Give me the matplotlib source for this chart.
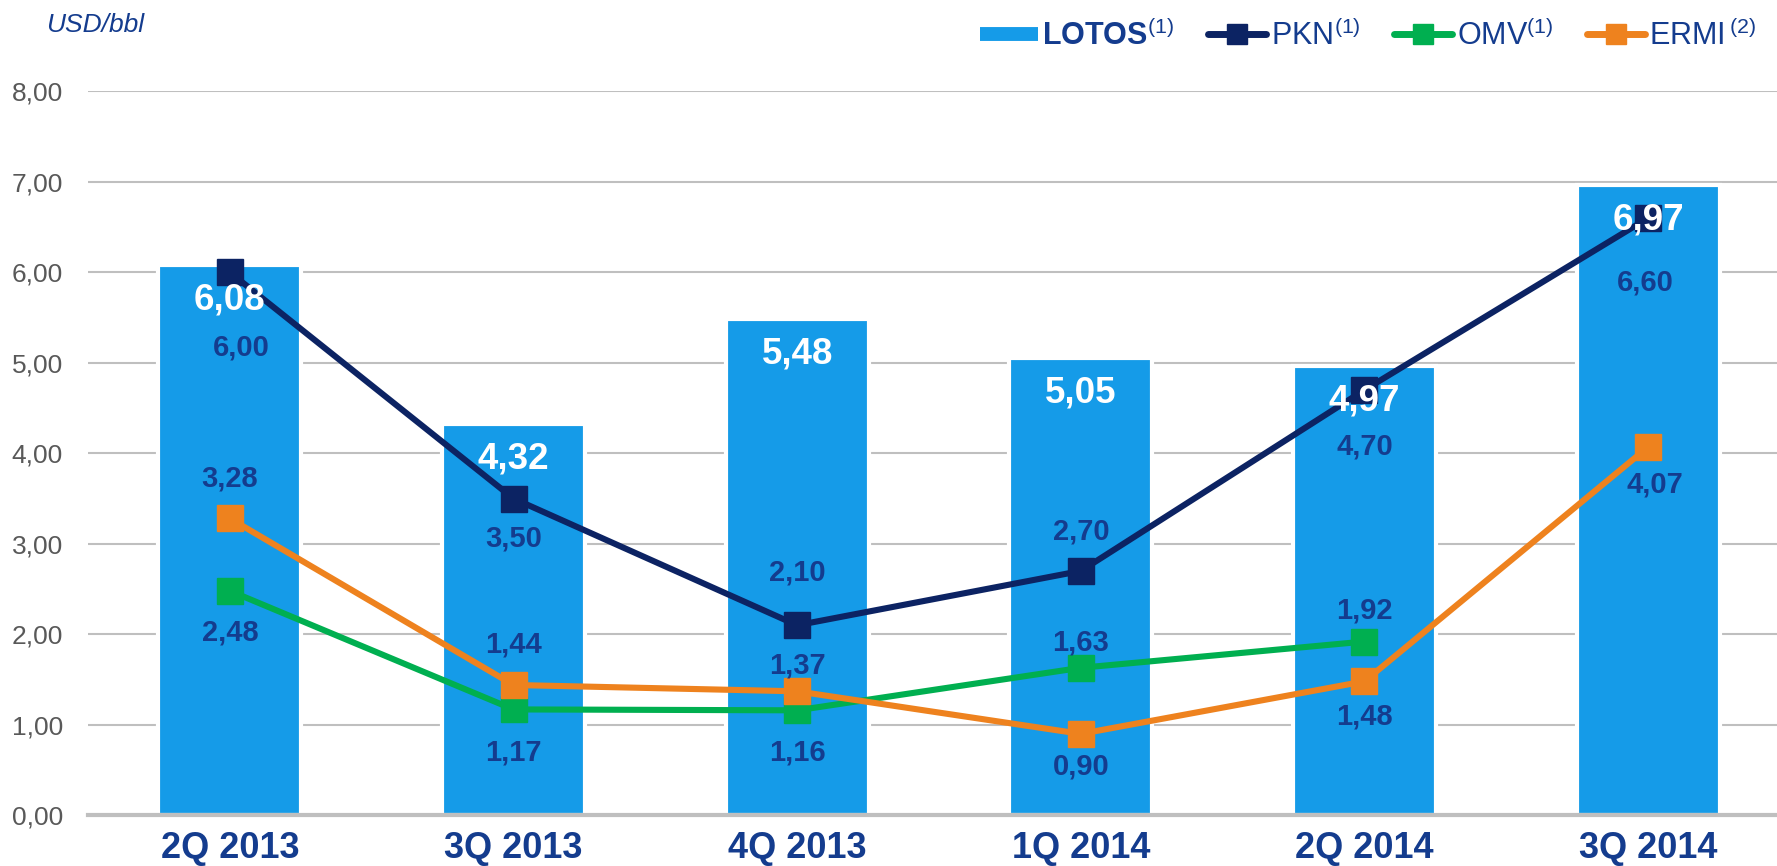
import numpy as np
import matplotlib
matplotlib.use('Agg')
import matplotlib.pyplot as plt
from matplotlib.lines import Line2D

# data (USD/bbl)
quarters = ['2Q 2013', '3Q 2013', '4Q 2013', '1Q 2014', '2Q 2014', '3Q 2014']
lotos = [6.08, 4.32, 5.48, 5.05, 4.97, 6.97]
pkn = [6.00, 3.50, 2.10, 2.70, 4.70, 6.60]
omv = [2.48, 1.17, 1.16, 1.63, 1.92, np.nan]
ermi = [3.28, 1.44, 1.37, 0.90, 1.48, 4.07]
yticks = [0, 1, 2, 3, 4, 5, 6, 7, 8]

# label offsets in pixels (dx, dy) from each point
lotos_offsets = [(0, -35)] * 6
pkn_offsets = [(11, -75), (0, -40), (0, 53), (0, 39), (0, -57), (-3, -64)]
omv_offsets = [(0, -42), (0, -43), (0, -42), (0, 25), (0, 31), (0, 0)]
ermi_offsets = [(0, 40), (0, 40), (0, 26), (0, -33), (0, -35), (7, -38)]

BAR = '#159BE8'
NAVY = '#0C2363'
GREEN = '#00AF50'
ORANGE = '#EE821E'
TXT = '#143C8E'
GRID = '#BFBFBF'

plt.rcParams['font.family'] = ['Liberation Sans', 'DejaVu Sans']
plt.rcParams['mathtext.fontset'] = 'custom'
plt.rcParams['mathtext.rm'] = 'Liberation Sans'
plt.rcParams['mathtext.it'] = 'Liberation Sans:italic'
plt.rcParams['mathtext.bf'] = 'Liberation Sans:bold'


def fmt(v):
    return f'{v:.2f}'.replace('.', ',')


fig = plt.figure(figsize=(17.77, 8.66), dpi=100)
ax = fig.add_axes([88 / 1777, 50.7 / 866, 1702 / 1777, 724 / 866])

x = np.arange(len(quarters))
ax.bar(x, lotos, width=0.505, color=BAR, edgecolor='white', linewidth=3, zorder=2)

series = [(pkn, NAVY, pkn_offsets), (omv, GREEN, omv_offsets), (ermi, ORANGE, ermi_offsets)]
for vals, col, offs in series:
    ax.plot(x, vals, color=col, lw=4.4, marker='s', markersize=18.5,
            solid_joinstyle='miter', zorder=3)
    for xi, v, (dx, dy) in zip(x, vals, offs):
        if np.isnan(v):
            continue
        ax.annotate(fmt(v), (xi, v), xytext=(dx, dy), textcoords='offset pixels',
                    ha='center', va='center', fontsize=21, fontweight='bold',
                    color=TXT, zorder=5)

for xi, v, (dx, dy) in zip(x, lotos, lotos_offsets):
    ax.annotate(fmt(v), (xi, v), xytext=(dx, dy), textcoords='offset pixels',
                ha='center', va='center', fontsize=26.5, fontweight='bold',
                color='white', zorder=6)

ax.set_xlim(-0.5, 5.5)
ax.set_ylim(0, 8)
ax.set_yticks(yticks, [fmt(t) for t in yticks])
ax.set_xticks(x, quarters)
ax.tick_params(axis='y', length=0, pad=18, labelsize=19, labelcolor='#595959')
ax.tick_params(axis='x', length=0, pad=11, labelsize=26, labelcolor=TXT)
for lbl in ax.get_xticklabels():
    lbl.set_fontweight('bold')

ax.yaxis.grid(True, color=GRID, lw=1.5)
ax.set_axisbelow(True)
for s in ['left', 'right', 'top']:
    ax.spines[s].set_visible(False)
ax.spines['bottom'].set_color(GRID)
ax.spines['bottom'].set_linewidth(3)

fig.text(46 / 1777, 1 - 25 / 866, 'USD/bbl', fontsize=19, style='italic',
         color=TXT, ha='left', va='center')

handles = [
    Line2D([], [], color=BAR, lw=10, solid_capstyle='butt'),
    Line2D([], [], color=NAVY, lw=5, marker='s', markersize=15, solid_capstyle='round'),
    Line2D([], [], color=GREEN, lw=5, marker='s', markersize=15, solid_capstyle='round'),
    Line2D([], [], color=ORANGE, lw=5, marker='s', markersize=15, solid_capstyle='round'),
]
labels = [r'LOTOS$^{\mathit{(1)}}$', r'PKN$^{\mathit{(1)}}$',
          r'OMV$^{\mathit{(1)}}$', r'ERMI$\,^{\mathit{(2)}}$']
leg = fig.legend(handles, labels, loc='center right',
                 bbox_to_anchor=(1757 / 1777, 1 - 36 / 866), ncol=4, frameon=False,
                 fontsize=22, handlelength=1.9, handletextpad=0.15,
                 columnspacing=1.1, borderpad=0, borderaxespad=0)
for t in leg.get_texts():
    t.set_color(TXT)
leg.get_texts()[0].set_fontweight('bold')

fig.savefig('out.png', dpi=100)
